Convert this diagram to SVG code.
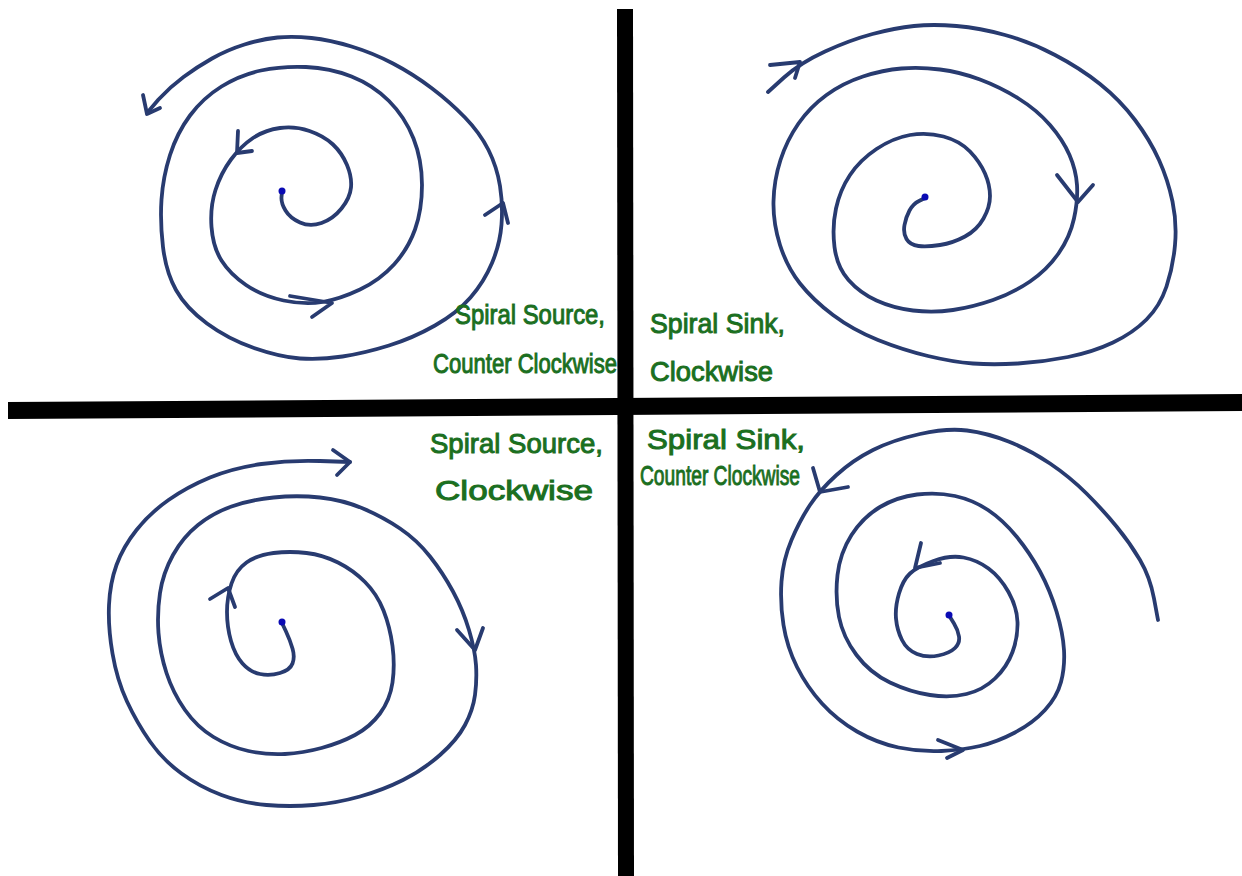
<svg xmlns="http://www.w3.org/2000/svg" width="1242" height="876" viewBox="0 0 1242 876">
<style>
.sp{fill:none;stroke:#283b70;stroke-width:3.8;stroke-linecap:round;stroke-linejoin:round}
.dot{fill:#0a0ab4}
.axis{fill:#000}
.lbl{font-family:"Liberation Sans",Arial,sans-serif;font-size:28px;fill:#1b6f1f;stroke:#1b6f1f;stroke-width:1}
</style>
<rect width="1242" height="876" fill="#fff"/>
<g id="axes">
<polygon class="axis" points="8,402 1242,394 1242,411 8,419"/>
<polygon class="axis" points="617,9 633,9 634,876 618,876"/>
</g>
<g id="spiral-source-ccw">
<path class="sp" d="M282,191 L281.5,197 Q281,203 285.5,210.5 Q290,218 300,222.5 Q310,227 321.5,223 Q333,219 341.5,208.5 Q350,198 351,187.5 Q352,177 347,165 Q342,153 333,144.5 Q324,136 309.5,131 Q295,126 280,128 Q265,130 253,138 Q241,146 231,159.5 Q221,173 215.5,190 Q210,207 211.5,227 Q213,247 221.5,260.5 Q230,274 246,285 Q262,296 283.5,300.5 Q305,305 322.5,302 Q340,299 360,289.5 Q380,280 394,264.5 Q408,249 415,229.5 Q422,210 422,185 Q422,160 413.5,138.5 Q405,117 389,101 Q373,85 351.5,76.5 Q330,68 306,67 Q282,66 261,70.5 Q240,75 221.5,86.5 Q203,98 190,115.5 Q177,133 170,155 Q163,177 161.5,199.5 Q160,222 163,247 Q166,272 176,290 Q186,308 207,323.5 Q228,339 254,348 Q280,357 300,358.5 Q320,360 342.5,356.5 Q365,353 389,345.5 Q413,338 435,325.5 Q457,313 470.5,297.5 Q484,282 492,263 Q500,244 501.5,224.5 Q503,205 500,186 Q497,167 488.5,150 Q480,133 465,117.5 Q450,102 431.5,88 Q413,74 393,63.5 Q373,53 351.5,46.5 Q330,40 311.5,38 Q293,36 277.5,37.5 Q262,39 244.5,44.5 Q227,50 212,58.5 Q197,67 183.5,77 Q170,87 158.5,99.5 L147,113"/>
<path class="sp" d="M143,95 L147,114 L160,108"/>
<path class="sp" d="M238,131 L237,153 L252,151"/>
<path class="sp" d="M290,296 L332,303 L312,317"/>
<path class="sp" d="M485,215 L503,203 L508,223"/>
<circle class="dot" cx="282" cy="191" r="3.5"/>
<text class="lbl" x="455" y="324" textLength="150" lengthAdjust="spacingAndGlyphs">Spiral Source,</text>
<text class="lbl" x="433" y="373" textLength="184" lengthAdjust="spacingAndGlyphs">Counter Clockwise</text>
</g>
<g id="spiral-sink-cw">
<path class="sp" d="M768,92 L784,77.5 Q800,63 825,51.5 Q850,40 872.5,34 Q895,28 914,26 Q933,24 956.5,26 Q980,28 1005,35 Q1030,42 1055,55 Q1080,68 1100,84 Q1120,100 1135,120 Q1150,140 1159,160 Q1168,180 1172.5,201.5 Q1177,223 1175,245 Q1173,267 1166.5,286.5 Q1160,306 1146.5,319.5 Q1133,333 1113,342.5 Q1093,352 1068,357 Q1043,362 1018,363.5 Q993,365 973,363.5 Q953,362 928,356 Q903,350 878,340 Q853,330 833,315 Q813,300 800,283.5 Q787,267 780,245 Q773,223 773.5,201.5 Q774,180 780.5,160 Q787,140 798.5,123.5 Q810,107 826.5,95 Q843,83 863,76.5 Q883,70 901.5,68.5 Q920,67 940,69.5 Q960,72 980,79.5 Q1000,87 1018.5,98.5 Q1037,110 1050,125 Q1063,140 1069.5,155 Q1076,170 1077,185 Q1078,200 1074,218.5 Q1070,237 1058.5,253.5 Q1047,270 1030,281.5 Q1013,293 993,300 Q973,307 953,310 Q933,313 913,310.5 Q893,308 876.5,300.5 Q860,293 848.5,280 Q837,267 834.5,247 Q832,227 836,208.5 Q840,190 850,175 Q860,160 876.5,149 Q893,138 910,135 Q927,132 943.5,136.5 Q960,141 970,151.5 Q980,162 985,173.5 Q990,185 990,196 Q990,207 983.5,218.5 Q977,230 965,236.5 Q953,243 940,245 Q927,247 918.5,246 Q910,245 906.5,239 Q903,233 904.5,225 Q906,217 909.5,210.5 Q913,204 919,201 L925,198"/>
<path class="sp" d="M770,65 L800,62 L795,78"/>
<path class="sp" d="M1057,175 L1078,202 L1093,185"/>
<circle class="dot" cx="925" cy="197" r="3.5"/>
<text class="lbl" x="650" y="333" font-size="26" textLength="135" lengthAdjust="spacingAndGlyphs">Spiral Sink,</text>
<text class="lbl" x="650" y="381" font-size="26" textLength="123" lengthAdjust="spacingAndGlyphs">Clockwise</text>
</g>
<g id="spiral-source-cw">
<path class="sp" d="M282,623 L286,631.5 Q290,640 292.5,648.5 Q295,657 292.5,663.5 Q290,670 280,673 Q270,676 260,674 Q250,672 242.5,663.5 Q235,655 231,641 Q227,627 227,612 Q227,597 231.5,583.5 Q236,570 246.5,562.5 Q257,555 273.5,553 Q290,551 306.5,553 Q323,555 338,562.5 Q353,570 365,582 Q377,594 383.5,610.5 Q390,627 392.5,646 Q395,665 392.5,682.5 Q390,700 380,713.5 Q370,727 355,735 Q340,743 321.5,748 Q303,753 285,754 Q267,755 248.5,751 Q230,747 213.5,737 Q197,727 185,710 Q173,693 166.5,673 Q160,653 158.5,633 Q157,613 160,593 Q163,573 173,555 Q183,537 198,525 Q213,513 231.5,506.5 Q250,500 273.5,497.5 Q297,495 320,497.5 Q343,500 363,508.5 Q383,517 400,528.5 Q417,540 430,556.5 Q443,573 453,591.5 Q463,610 469,630 Q475,650 476,665 Q477,680 475,695 Q473,710 465,725 Q457,740 440,755 Q423,770 403,780 Q383,790 360,796.5 Q337,803 313.5,805 Q290,807 266.5,805 Q243,803 221.5,795 Q200,787 181.5,773.5 Q163,760 150,741.5 Q137,723 127,701.5 Q117,680 112.5,653.5 Q108,627 109,605 Q110,583 116.5,565 Q123,547 136.5,530 Q150,513 168.5,500 Q187,487 210,477.5 Q233,468 261.5,464 Q290,460 320,461 L350,462"/>
<path class="sp" d="M333,450 L350,462 L337,475"/>
<path class="sp" d="M210,599 L228,588 L235,607"/>
<path class="sp" d="M457,630 L475,650 L483,628"/>
<circle class="dot" cx="282" cy="622" r="3.5"/>
<text class="lbl" x="430" y="453" textLength="173" lengthAdjust="spacingAndGlyphs">Spiral Source,</text>
<text class="lbl" x="435" y="500" textLength="158" lengthAdjust="spacingAndGlyphs">Clockwise</text>
</g>
<g id="spiral-sink-ccw">
<path class="sp" d="M1158,620 L1154,598.5 Q1150,577 1140,560 Q1130,543 1116.5,526.5 Q1103,510 1086.5,493.5 Q1070,477 1050,463.5 Q1030,450 1008.5,441.5 Q987,433 967,430.5 Q947,428 920,434 Q893,440 873,450 Q853,460 836.5,475 Q820,490 810,505 Q800,520 791.5,540 Q783,560 781.5,581.5 Q780,603 783.5,625 Q787,647 797,667 Q807,687 822,703.5 Q837,720 857,731.5 Q877,743 898.5,747.5 Q920,752 941.5,751 Q963,750 980,746 Q997,742 1015,732.5 Q1033,723 1045,710 Q1057,697 1061,682 Q1065,667 1064,650 Q1063,633 1056.5,611.5 Q1050,590 1040,571.5 Q1030,553 1016.5,536.5 Q1003,520 988,510 Q973,500 955,496 Q937,492 917,494.5 Q897,497 880,507 Q863,517 851.5,535 Q840,553 837.5,575 Q835,597 839,617 Q843,637 856.5,655 Q870,673 890,682.5 Q910,692 930,695 Q950,698 966.5,694 Q983,690 995,678.5 Q1007,667 1012.5,652 Q1018,637 1017.5,622 Q1017,607 1008.5,592 Q1000,577 988.5,568.5 Q977,560 963.5,557.5 Q950,555 933.5,561 Q917,567 910,573.5 Q903,580 899,593.5 Q895,607 896,618.5 Q897,630 902,640 Q907,650 917,654 Q927,658 938.5,655.5 Q950,653 955,648 Q960,643 959,636.5 Q958,630 954,623.5 L950,617"/>
<path class="sp" d="M813,468 L820,492 L848,487"/>
<path class="sp" d="M921,543 L915,568 L940,563"/>
<path class="sp" d="M938,740 L963,750 L947,758"/>
<circle class="dot" cx="949" cy="615" r="3.5"/>
<text class="lbl" x="647" y="449" textLength="158" lengthAdjust="spacingAndGlyphs">Spiral Sink,</text>
<text class="lbl" x="640" y="485" font-size="22" textLength="160" lengthAdjust="spacingAndGlyphs">Counter Clockwise</text>
</g>
</svg>
